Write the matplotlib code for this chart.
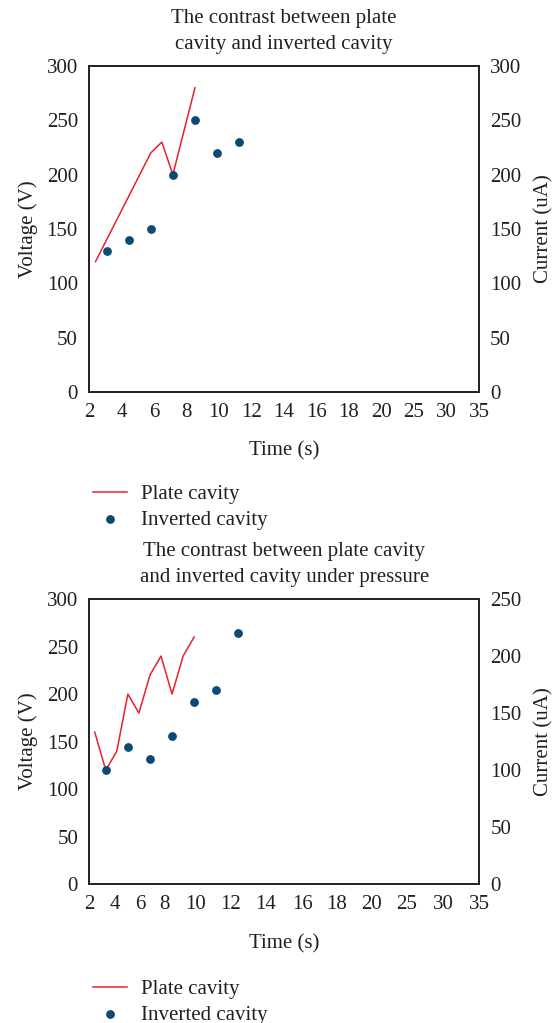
import matplotlib
matplotlib.use('Agg')
import matplotlib.pyplot as plt

plt.rcParams['font.family'] = ['Liberation Serif', 'DejaVu Serif']
plt.rcParams['text.color'] = '#231f20'
plt.rcParams['axes.labelcolor'] = '#231f20'
plt.rcParams['xtick.color'] = '#231f20'
plt.rcParams['ytick.color'] = '#231f20'

time_labels = ['2', '4', '6', '8', '10', '12', '14', '16', '18', '20', '25', '30', '35']
# the two panels place their category labels differently
ticks_top = [0, 1, 2, 3, 4, 5, 6, 7, 8, 9, 10, 11, 12]
ticks_bottom = [0, 0.79, 1.56, 2.33, 3.26, 4.36, 5.44, 6.55, 7.62, 8.7, 9.78, 10.89, 12]

# top panel (positions in category-axis units)
plate_x1 = [0.2, 0.54, 0.88, 1.22, 1.56, 1.9, 2.24, 2.58, 2.92, 3.26]
plate_v1 = [120, 140, 160, 180, 200, 220, 230, 200, 240, 280]
inv_x1 = [0.54, 1.22, 1.9, 2.58, 3.26, 3.94, 4.62]
inv_i1 = [130, 140, 150, 200, 250, 220, 230]

# bottom panel
plate_x2 = [0.17, 0.51, 0.85, 1.19, 1.53, 1.87, 2.21, 2.55, 2.89, 3.23]
plate_v2 = [160, 120, 140, 200, 180, 220, 240, 200, 240, 260]
inv_x2 = [0.51, 1.19, 1.87, 2.55, 3.23, 3.91, 4.59]
inv_i2 = [100, 120, 110, 130, 160, 170, 220]

RED = '#e8212b'
BLUE = '#0b4a72'
FS = 15

fig = plt.figure(figsize=(5.55, 10.23), dpi=100)


def panel(rect, title, ticks, lx, lv, sx, si, right_max, legend_y):
    ax = fig.add_axes(rect)
    ax2 = ax.twinx()
    l, = ax.plot(lx, lv, color=RED, lw=1.1)
    s = ax2.scatter(sx, si, s=28, color=BLUE, zorder=3)
    ax.set_xlim(0, 12)
    ax.set_xticks(ticks)
    ax.set_xticklabels(time_labels)
    ax.set_ylim(0, 300)
    ax.set_yticks(range(0, 301, 50))
    ax2.set_ylim(0, right_max)
    ax2.set_yticks(range(0, right_max + 1, 50))
    for a in (ax, ax2):
        a.tick_params(length=0, labelsize=FS, pad=8)
        for sp in a.spines.values():
            sp.set_linewidth(1.2)
            sp.set_color('#231f20')
    ax.set_ylabel('Voltage (V)', fontsize=FS, labelpad=6)
    ax2.set_ylabel('Current (uA)', fontsize=FS, labelpad=9)
    ax.set_xlabel('Time (s)', fontsize=FS, labelpad=14)
    ax.set_title(title, fontsize=FS, pad=12, linespacing=1.5)
    fig.legend([l, s], ['Plate cavity', 'Inverted cavity'], loc='upper left',
               bbox_to_anchor=(0.152, legend_y), frameon=False, fontsize=FS,
               handlelength=1.65, handletextpad=0.65, labelspacing=0.3,
               borderaxespad=0)
    return ax


panel([0.1604, 0.6168, 0.7027, 0.3187],
      'The contrast between plate\ncavity and inverted cavity', ticks_top,
      plate_x1, plate_v1, inv_x1, inv_i1, 300, 1 - 476 / 1023)
panel([0.1607, 0.1356, 0.7027, 0.2789],
      'The contrast between plate cavity\nand inverted cavity under pressure', ticks_bottom,
      plate_x2, plate_v2, inv_x2, inv_i2, 250, 1 - 971 / 1023)

fig.savefig('out.png', dpi=100)
